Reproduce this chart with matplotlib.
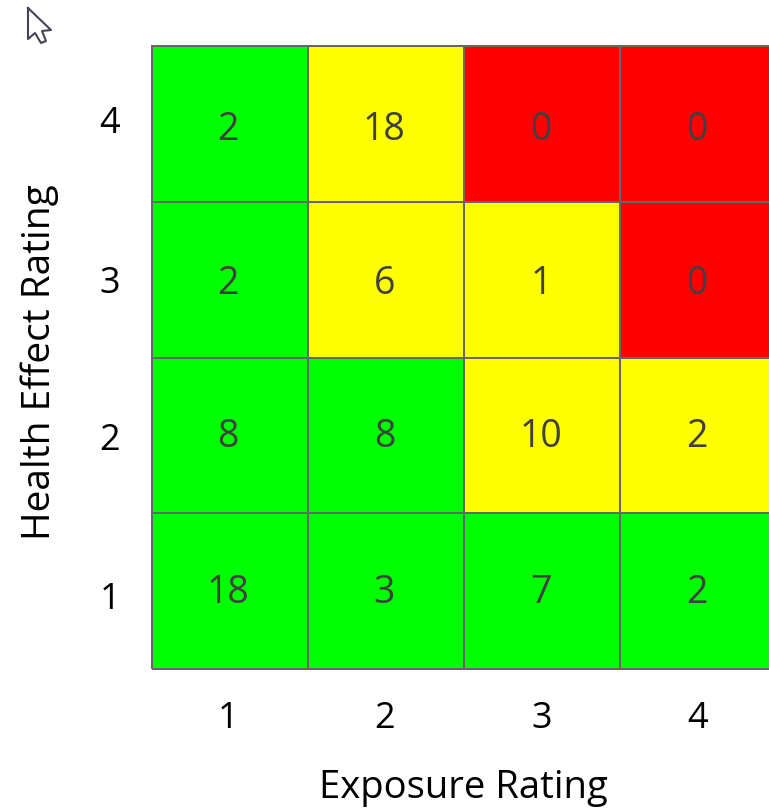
import matplotlib
matplotlib.use('Agg')
import matplotlib.pyplot as plt
import numpy as np
from matplotlib.colors import ListedColormap

plt.rcParams['font.family'] = ['Open Sans', 'DejaVu Sans']

exposure = ['1', '2', '3', '4']
health = ['1', '2', '3', '4']

# rows from health rating 1 up to 4
counts = [[18, 3, 7, 2],
          [8, 8, 10, 2],
          [2, 6, 1, 0],
          [2, 18, 0, 0]]
# 0 green, 1 yellow, 2 red
risk = [[0, 0, 0, 0],
        [0, 0, 1, 1],
        [0, 1, 1, 2],
        [0, 1, 2, 2]]

W, H = 769, 809
fig = plt.figure(figsize=(W / 100, H / 100), dpi=100)
# the grid is cut off by the right edge of the picture
ax = fig.add_axes([152 / W, 1 - 669 / H, (W - 152) / W, (669 - 46) / H])

cmap = ListedColormap(['#00ff00', '#ffff00', '#ff0000'])
x = np.arange(5)
y = np.arange(5)
ax.pcolormesh(x, y, np.array(risk), cmap=cmap, vmin=0, vmax=2,
              edgecolors='#666666', linewidth=1.3, clip_on=False)
ax.set_xlim(0, (W - 152) / 156)
ax.set_ylim(0, 4)

# labels sit a little off the cell centres in the screenshot
col_pos = [0.485, 1.49, 2.495, 3.495]
row_pos = [0.488, 1.49, 2.47, 3.46]
for i in range(4):
    for j in range(4):
        ax.text(col_pos[j], row_pos[i], str(counts[i][j]), ha='center', va='center',
                fontsize=27, color='#404040')

ax.set_xticks(col_pos, exposure, fontsize=26)
ax.set_yticks([0.469, 1.49, 2.5, 3.525], health, fontsize=26)
ax.tick_params(length=0, pad=23, colors='black')
ax.tick_params(axis='x', pad=23)
for s in ax.spines.values():
    s.set_visible(False)

fig.text(463 / W, 1 - 788 / H, 'Exposure Rating', ha='center', va='center', fontsize=27.5)
fig.text(40 / W, 1 - 362 / H, 'Health Effect Rating', ha='center', va='center',
         rotation=90, fontsize=28)

# mouse pointer in the top left of the screenshot
cursor = np.array([[28, 8], [28, 39], [35, 33], [41, 43], [46, 41], [42, 31], [51, 30], [28, 8]])
ax_fig = fig.add_axes([0, 0, 1, 1], facecolor='none')
ax_fig.set_xlim(0, W)
ax_fig.set_ylim(H, 0)
ax_fig.axis('off')
ax_fig.plot(cursor[:, 0], cursor[:, 1], color='#444455', lw=1.5)

fig.savefig('out.png', dpi=100)
